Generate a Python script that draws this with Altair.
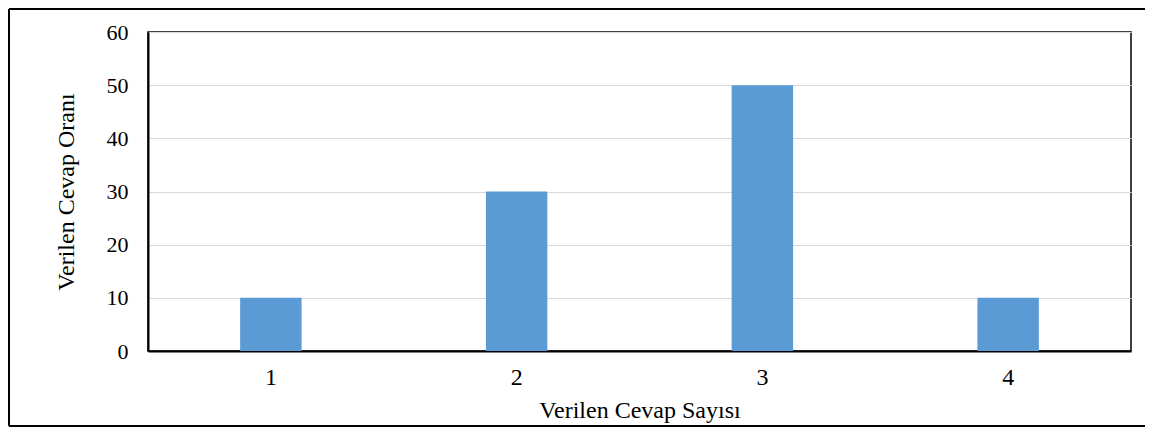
import altair as alt
import pandas as pd

categories = ["1", "2", "3", "4"]
values = [10, 30, 50, 10]

df = pd.DataFrame({"cat": categories, "val": values})

W, H = 983, 319
PL, PT, PR, PB = 140, 24, 14, 76
FONT = "Liberation Serif"
FS = 24
FSY = 22

bars = alt.Chart(df).mark_bar(color="#5B9BD5").encode(
    x=alt.X("cat:N", sort=categories,
            scale=alt.Scale(paddingInner=0.75, paddingOuter=0.375),
            axis=alt.Axis(title="Verilen Cevap Sayısı", labelAngle=0, ticks=False,
                          domainColor="black", domainWidth=2,
                          labelFont=FONT, labelFontSize=FS, labelColor="black",
                          labelPadding=14,
                          titleFont=FONT, titleFontSize=FS, titleColor="black",
                          titleFontWeight="normal", titlePadding=9)),
    y=alt.Y("val:Q", scale=alt.Scale(domain=[0, 60], nice=False),
            axis=alt.Axis(title="Verilen Cevap Oranı", values=[0, 10, 20, 30, 40, 50, 60],
                          ticks=False, domainColor="black", domainWidth=2,
                          gridColor="#D9D9D9", gridWidth=1,
                          labelFont=FONT, labelFontSize=FSY, labelColor="black",
                          labelPadding=20,
                          titleFont=FONT, titleFontSize=FS, titleColor="black",
                          titleFontWeight="normal", titlePadding=28)),
)

border_df = pd.DataFrame({"k": [0]})
left = alt.Chart(border_df).mark_rule(color="black", strokeWidth=2).encode(
    x=alt.value(-PL + 1), y=alt.value(-PT + 1), y2=alt.value(H + PB - 1))
top = alt.Chart(border_df).mark_rule(color="black", strokeWidth=2).encode(
    x=alt.value(-PL + 1), x2=alt.value(W + PR), y=alt.value(-PT + 1))
bottom = alt.Chart(border_df).mark_rule(color="black", strokeWidth=2).encode(
    x=alt.value(-PL + 1), x2=alt.value(W + PR), y=alt.value(H + PB - 1))

chart = alt.layer(bars, left, top, bottom).properties(
    width=W, height=H,
    autosize=alt.AutoSizeParams(type="none"),
    padding={"left": PL, "top": PT, "right": PR, "bottom": PB},
).configure(background="white").configure_view(stroke="black", strokeWidth=1.5)

chart.save("out.html", embed_options={"renderer": "svg", "actions": False})
